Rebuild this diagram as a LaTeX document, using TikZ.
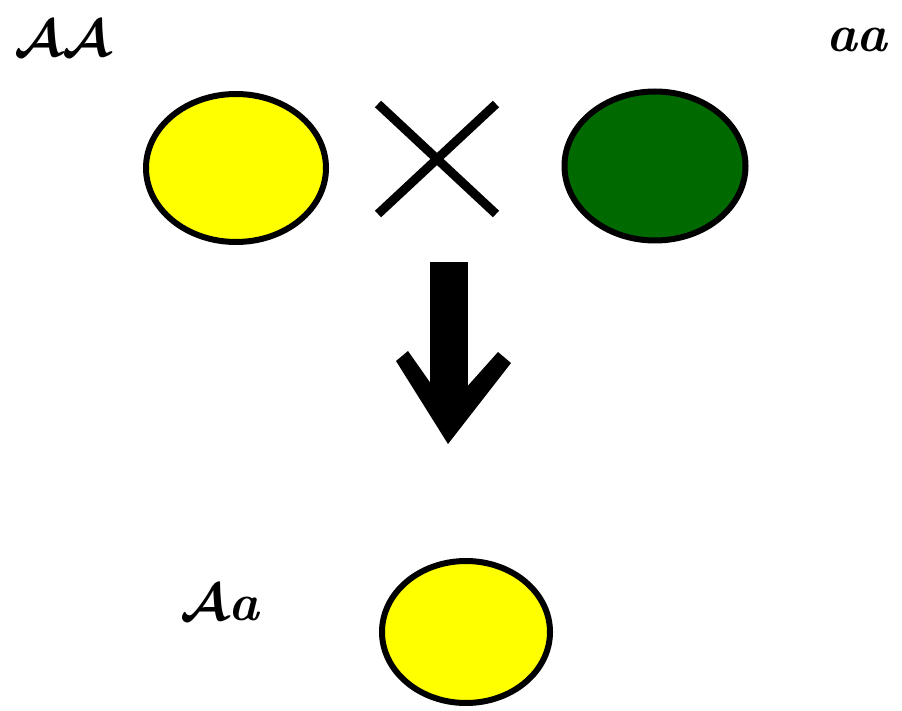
\documentclass[tikz,border=0pt]{standalone}
\usepackage{graphicx}
\usepackage{amsmath}
\usetikzlibrary{shapes.geometric}
\definecolor{peayellow}{RGB}{255,255,0}
\definecolor{peagreen}{RGB}{0,105,0}
\newcommand{\biglbl}[1]{\scalebox{5.2}{\bfseries\itshape #1}}
\begin{document}
\begin{tikzpicture}[x=1pt,y=-1pt,
  pea/.style={draw=black,line width=6pt,ellipse,inner sep=0pt},
  lbl/.style={inner sep=0pt,anchor=base west}]
\useasboundingbox (0,0) rectangle (902,711);
\node[pea,fill=peayellow,minimum width=180pt,minimum height=148pt] (p1) at (236,168) {};
\node[pea,fill=peagreen,minimum width=181pt,minimum height=149pt] (p2) at (655,166) {};
\node[pea,fill=peayellow,minimum width=168pt,minimum height=142pt] (f1) at (466,632) {};
\node[lbl] (l1) at (14,57) {\biglbl{$\boldsymbol{\mathcal{A}\mathcal{A}}$}};
\node[lbl] (l2) at (826,52) {\biglbl{aa}};
\node[lbl] (l3) at (180,620) {\biglbl{$\boldsymbol{\mathcal{A}}$a}};
\coordinate (x1) at (378,104);
\coordinate (x2) at (496,214);
\coordinate (x3) at (496,104);
\coordinate (x4) at (378,214);
\draw[line width=9pt] (x1) -- (x2) (x3) -- (x4);
\coordinate (as) at (449,262);
\coordinate (ae) at (448,444);
\fill[black] (430,262) rectangle (468,410);
\fill[black] (396,361) -- (408,351) -- (448,408) -- (498,352) -- (511,363) -- (ae) -- cycle;
\end{tikzpicture}
\end{document}
